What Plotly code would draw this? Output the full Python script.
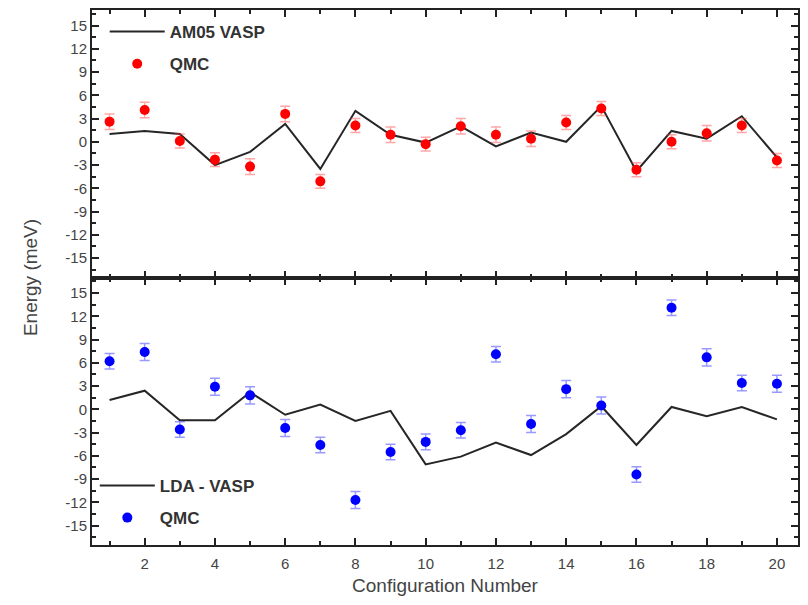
import plotly.graph_objects as go

config = list(range(1, 21))

am05_vasp = [1.0, 1.4, 1.0, -3.0, -1.3, 2.3, -3.5, 4.0, 0.9, -0.1,
             2.0, -0.6, 1.2, 0.0, 4.6, -3.8, 1.4, 0.4, 3.3, -2.0]
qmc_top = [2.6, 4.1, 0.1, -2.3, -3.2, 3.6, -5.1, 2.1, 0.9, -0.3,
           2.0, 0.9, 0.4, 2.5, 4.3, -3.6, 0.0, 1.1, 2.1, -2.4]
qmc_top_err = [1.0, 1.0, 0.9, 0.9, 1.0, 1.0, 0.9, 0.9, 1.0, 0.9,
               1.0, 1.0, 1.0, 0.9, 0.9, 0.9, 0.9, 1.0, 0.9, 0.9]

lda_vasp = [1.2, 2.4, -1.4, -1.4, 2.2, -0.7, 0.6, -1.5, -0.2, -7.1,
            -6.1, -4.3, -5.9, -3.2, 0.4, -4.6, 0.3, -0.9, 0.3, -1.3]
qmc_bot = [6.2, 7.4, -2.6, 2.9, 1.8, -2.4, -4.6, -11.7, -5.5, -4.2,
           -2.7, 7.1, -1.9, 2.6, 0.5, -8.4, 13.1, 6.7, 3.4, 3.3]
qmc_bot_err = [1.0, 1.1, 1.0, 1.1, 1.1, 1.1, 1.0, 1.1, 1.0, 1.0,
               1.0, 1.0, 1.1, 1.1, 1.1, 1.0, 1.0, 1.1, 1.0, 1.1]

y_ticks = [15, 12, 9, 6, 3, 0, -3, -6, -9, -12, -15]
y_ticktext = [str(v) for v in y_ticks]
x_ticks = [2, 4, 6, 8, 10, 12, 14, 16, 18, 20]
x_ticktext = [str(v) for v in x_ticks]

fig = go.Figure()

line_color = "#262626"
fig.add_trace(go.Scatter(x=config, y=am05_vasp, mode="lines", name="AM05 VASP",
                         line=dict(color=line_color, width=2), legendgroup="a",
                         xaxis="x2", yaxis="y2", legend="legend"))
fig.add_trace(go.Scatter(x=config, y=qmc_top, mode="markers", name="QMC",
                         marker=dict(color="#ff0000", size=10), legendgroup="b",
                         error_y=dict(type="data", array=qmc_top_err, visible=True,
                                      color="rgba(255,60,60,0.45)", thickness=1.5, width=5),
                         xaxis="x2", yaxis="y2", legend="legend"))
fig.add_trace(go.Scatter(x=config, y=lda_vasp, mode="lines", name="LDA - VASP",
                         line=dict(color=line_color, width=2), legendgroup="c",
                         xaxis="x", yaxis="y", legend="legend2"))
fig.add_trace(go.Scatter(x=config, y=qmc_bot, mode="markers", name="QMC",
                         marker=dict(color="#0000ff", size=10), legendgroup="d",
                         error_y=dict(type="data", array=qmc_bot_err, visible=True,
                                      color="rgba(70,70,255,0.55)", thickness=1.5, width=5),
                         xaxis="x", yaxis="y", legend="legend2"))

axis_common = dict(showline=True, linecolor="#222", linewidth=2, mirror="ticks",
                   ticks="inside", tickcolor="#222", tickwidth=1.5, showgrid=False,
                   zeroline=False)
tickfont = dict(family="Liberation Sans, Arial", size=15, color="#444")
legfont = dict(family="Liberation Sans, Arial", size=17, color="#333", weight="bold")

fig.update_layout(
    width=808, height=605,
    margin=dict(l=92, r=8, t=9, b=60),
    plot_bgcolor="white", paper_bgcolor="white",
    xaxis=dict(domain=[0, 1], range=[0.5, 20.6], tickvals=x_ticks, ticktext=x_ticktext,
               ticklen=7, tickfont=tickfont, ticklabelstandoff=4,
               minor=dict(dtick=1, tick0=0, ticks="inside", ticklen=4, tickcolor="#222"),
               title=dict(text="Configuration Number",
                          font=dict(family="Liberation Sans, Arial", size=19, color="#444"),
                          standoff=8),
               anchor="y", **axis_common),
    yaxis=dict(domain=[0, 0.5], range=[-17.5, 17.0], tickvals=y_ticks, ticktext=y_ticktext,
               ticklen=7, tickfont=tickfont,
               minor=dict(dtick=1.5, tick0=0, ticks="inside", ticklen=4, tickcolor="#222"),
               anchor="x", **axis_common),
    xaxis2=dict(domain=[0, 1], range=[0.5, 20.6], tickvals=x_ticks, showticklabels=False,
                ticklen=7, matches="x",
                minor=dict(dtick=1, tick0=0, ticks="inside", ticklen=4, tickcolor="#222"),
                anchor="y2", **axis_common),
    yaxis2=dict(domain=[0.5, 1], range=[-17.5, 17.0], tickvals=y_ticks, ticktext=y_ticktext,
                ticklen=7, tickfont=tickfont,
                minor=dict(dtick=1.5, tick0=0, ticks="inside", ticklen=4, tickcolor="#222"),
                anchor="x2", **axis_common),
    legend=dict(x=0.018, y=0.9925, xanchor="left", yanchor="top", bgcolor="rgba(0,0,0,0)",
                font=legfont, traceorder="grouped", tracegroupgap=7, itemwidth=55),
    legend2=dict(x=0.004, y=0.144, xanchor="left", yanchor="top", bgcolor="rgba(0,0,0,0)",
                 font=legfont, traceorder="grouped", tracegroupgap=7, itemwidth=55),
    annotations=[dict(text="Energy (meV)", xref="paper", yref="paper", x=-0.087, y=0.5,
                      xanchor="center", yanchor="middle", textangle=-90, showarrow=False,
                      font=dict(family="Liberation Sans, Arial", size=19, color="#444"))],
    showlegend=True,
)

fig.write_html("out.html")
